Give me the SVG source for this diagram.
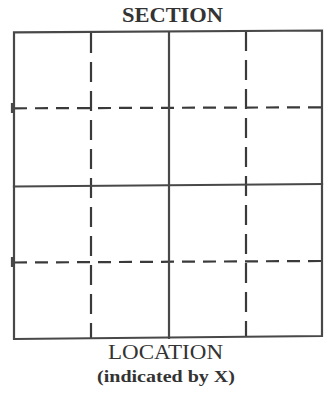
<svg xmlns="http://www.w3.org/2000/svg" width="327" height="399" viewBox="0 0 327 399">
<style>
.solid{fill:none;stroke:#484848;stroke-width:2.2;stroke-linecap:square}
.dashv{fill:none;stroke:#3a3a3a;stroke-width:2.2;stroke-dasharray:20 9}
.dashh{fill:none;stroke:#3a3a3a;stroke-width:2.2;stroke-dasharray:13 8}
.t{font-family:"Liberation Serif","DejaVu Serif",serif;fill:#333;text-anchor:middle}
</style>
<rect width="327" height="399" fill="#fff"/>
<g id="connectors">
<path class="dashv" d="M91,33 L91,338"/>
<path class="dashv" d="M246,31 L246,336"/>
<path class="dashh" d="M14,108.3 L322,107.3"/>
<path class="dashh" d="M14,262.5 L322,261"/>
</g>
<g id="grid">
<path class="solid" d="M14,32.3 L322,30.5 L322,336 L14,339 Z"/>
<path class="solid" d="M169,32 L169,338"/>
<path class="solid" d="M14,186.5 L322,184"/>
<path class="solid" d="M12,104 L12,112 M12,258 L12,266"/>
</g>
<g id="section"><text class="t" x="172.5" y="21.5" font-size="20" font-weight="bold" textLength="101" lengthAdjust="spacingAndGlyphs">SECTION</text></g>
<g id="location"><text class="t" x="165.5" y="358.5" font-size="20" textLength="115" lengthAdjust="spacingAndGlyphs">LOCATION</text></g>
<g id="note"><text class="t" x="166" y="382" font-size="16.5" font-weight="bold" textLength="138" lengthAdjust="spacingAndGlyphs">(indicated by X)</text></g>
</svg>
